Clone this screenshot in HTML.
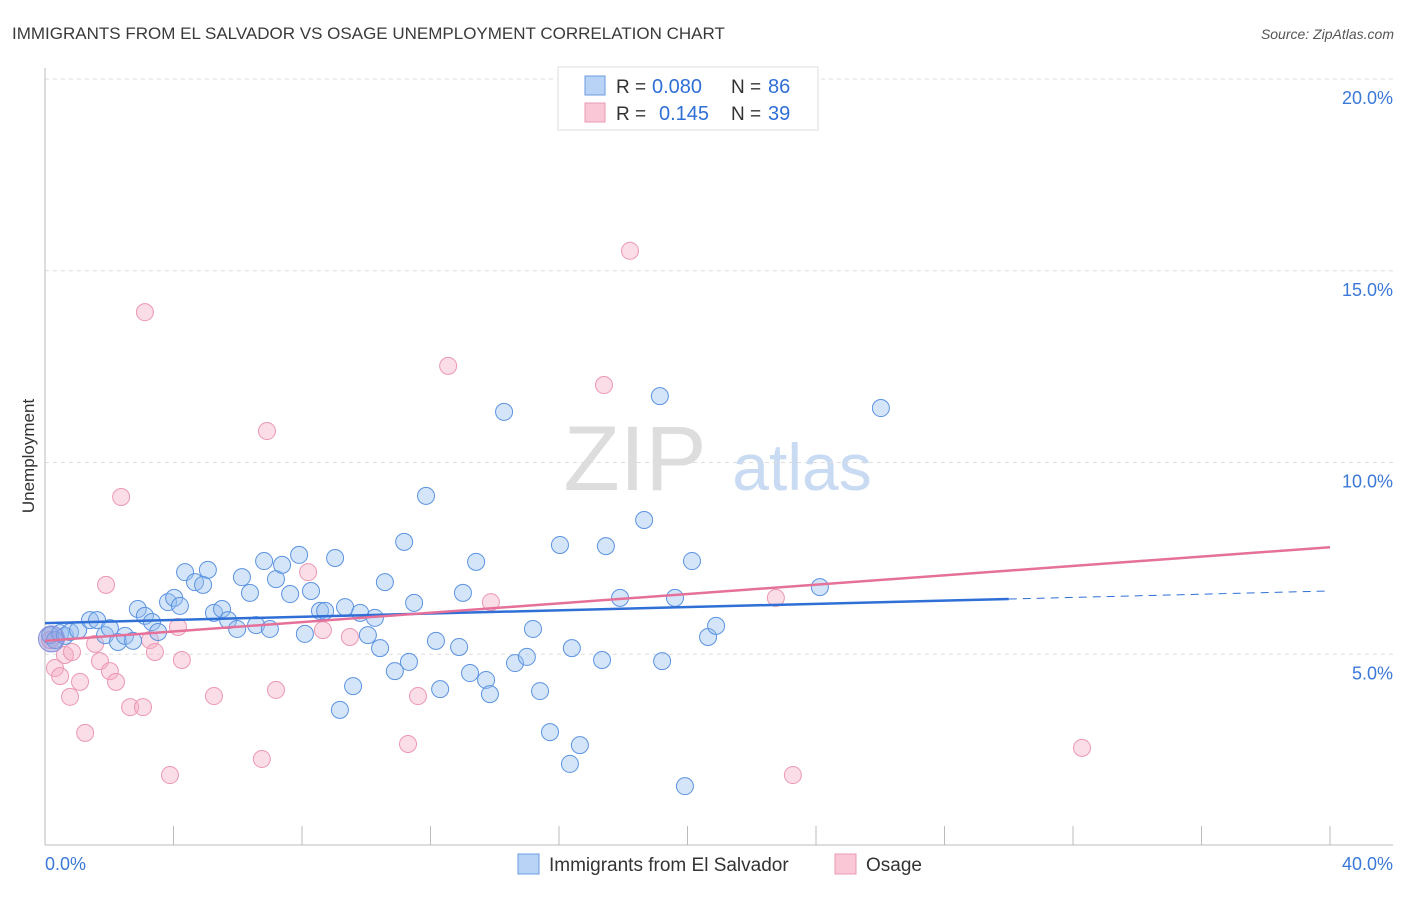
<!DOCTYPE html>
<html><head><meta charset="utf-8"><style>
body{margin:0;background:#fff;font-family:"Liberation Sans",sans-serif}
svg text{font-family:"Liberation Sans",sans-serif}
</style></head><body>
<svg id="chart" width="1406" height="892" xmlns="http://www.w3.org/2000/svg">
<text x="12" y="39" font-size="17" fill="#3a3a3a">IMMIGRANTS FROM EL SALVADOR VS OSAGE UNEMPLOYMENT CORRELATION CHART</text>
<text x="1394" y="39" font-size="14" fill="#555" font-style="italic" text-anchor="end">Source: ZipAtlas.com</text>
<text transform="translate(34,456) rotate(-90)" font-size="17" fill="#333" text-anchor="middle">Unemployment</text>
<g><text x="635" y="490" font-size="92" fill="#ddd" font-family="Liberation Serif,serif" text-anchor="middle">ZIP</text><text x="802" y="490" font-size="66" fill="#c9daf3" text-anchor="middle">atlas</text></g>
<g id="grid"></g><g id="axes"></g><g id="pts"></g><g id="trends"></g>
<g>
<rect x="558" y="67" width="260" height="63" fill="#fff" stroke="#ddd"/>
<rect x="585" y="76" width="20" height="19" fill="#b8d3f5" stroke="#6b9be0"/>
<rect x="585" y="103" width="20" height="19" fill="#f9c7d6" stroke="#ea9ab4"/>
<text x="616" y="93" font-size="19" fill="#333">R =</text>
<text x="652" y="93" font-size="20" fill="#2f6fd6">0.080</text>
<text x="731" y="93" font-size="19" fill="#333">N =</text>
<text x="768" y="93" font-size="20" fill="#2f6fd6">86</text>
<text x="616" y="120" font-size="19" fill="#333">R =</text>
<text x="659" y="120" font-size="20" fill="#2f6fd6">0.145</text>
<text x="731" y="120" font-size="19" fill="#333">N =</text>
<text x="768" y="120" font-size="20" fill="#2f6fd6">39</text>
</g>
<g>
<rect x="518" y="854" width="21" height="20" fill="#b8d3f5" stroke="#6b9be0"/>
<text x="549" y="871" font-size="19" fill="#333">Immigrants from El Salvador</text>
<rect x="835" y="854" width="21" height="20" fill="#f9c7d6" stroke="#ea9ab4"/>
<text x="866" y="871" font-size="19" fill="#333">Osage</text>
</g>
</svg>
<script>
const blueX=[0.16,0.31,0.47,0.62,0.78,1.03,1.40,1.62,1.87,2.02,2.27,2.49,2.74,2.89,3.11,3.33,3.52,3.83,4.02,4.20,4.36,4.67,4.92,5.07,5.26,5.51,5.70,5.98,6.13,6.38,6.57,6.82,7.00,7.19,7.38,7.63,7.91,8.09,8.28,8.56,8.72,9.03,9.18,9.34,9.59,9.81,10.05,10.27,10.43,10.58,10.89,11.18,11.33,11.49,11.86,12.17,12.30,12.89,13.01,13.23,13.42,13.73,13.85,14.29,14.63,15.00,15.19,15.41,15.72,16.03,16.34,16.40,16.65,17.34,17.46,17.90,18.65,19.14,19.21,19.61,19.92,20.14,20.64,20.89,24.12,26.02];
const blueY=[5.50,5.37,5.55,5.48,5.58,5.63,5.89,5.89,5.50,5.68,5.32,5.48,5.35,6.18,6.00,5.84,5.58,6.36,6.47,6.26,7.14,6.88,6.81,7.20,6.08,6.18,5.89,5.66,7.01,6.60,5.76,7.43,5.66,6.96,7.33,6.57,7.59,5.53,6.65,6.13,6.13,7.51,3.55,6.23,4.17,6.08,5.50,5.95,5.16,6.88,4.56,7.93,4.80,6.34,9.13,5.35,4.09,5.19,6.60,4.51,7.41,4.33,3.96,11.32,4.77,4.93,5.66,4.04,2.97,7.85,2.14,5.16,2.63,4.85,7.82,6.47,8.50,11.73,4.82,6.47,1.56,7.43,5.45,5.74,6.75,11.42];
const pinkX=[0.16,0.31,0.47,0.62,0.78,0.84,1.09,1.25,1.56,1.71,1.90,2.02,2.21,2.37,2.65,3.11,3.05,3.27,3.42,3.89,4.14,4.26,5.26,6.75,6.91,7.19,8.19,8.65,9.49,11.30,11.61,12.55,13.88,17.40,18.21,22.75,23.28,32.28];
const pinkY=[5.37,4.64,4.43,4.98,3.89,5.06,4.28,2.95,5.27,4.82,6.81,4.56,4.28,9.10,3.62,13.92,3.62,5.37,5.06,1.85,5.71,4.85,3.91,2.27,10.82,4.07,7.14,5.63,5.45,2.66,3.91,12.52,6.36,12.02,15.52,6.47,1.85,2.56];
const yTicks=[5,10,15,20];
const yTickLabels=["5.0%","10.0%","15.0%","20.0%"];
const xTicks=[0,4,8,12,16,20,24,28,32,36,40];
const blueTrend=[5.81,0.021,30];
const pinkTrend=[5.35,0.061,40];
const NS="http://www.w3.org/2000/svg";
const X=v=>45+v/40*1285, Y=v=>846-v/20*767;
function mk(t,a,p){const e=document.createElementNS(NS,t);for(const k in a)e.setAttribute(k,a[k]);p.appendChild(e);return e;}
const grid=document.getElementById('grid'),axes=document.getElementById('axes'),pts=document.getElementById('pts'),tr=document.getElementById('trends');
yTicks.forEach((v,i)=>{
 const l=mk('line',{x1:45,x2:1393,y1:Y(v),y2:Y(v),stroke:'#ddd','stroke-dasharray':'4,4'},grid);
 
 
 const t=mk('text',{x:1393,y:Y(v)+25,'font-size':18,fill:'#3b78d8','text-anchor':'end'},axes);
 t.textContent=yTickLabels[i];
 
 
});
mk('line',{x1:45,x2:45,y1:68,y2:845,stroke:'#bbb'},axes);
mk('line',{x1:45,x2:1393,y1:845,y2:845,stroke:'#bbb'},axes);
xTicks.forEach(v=>{const l=mk('line',{x1:X(v),x2:X(v),y1:826,y2:845,stroke:'#bbb'},axes);
 
 });
const xl0=mk('text',{x:45,y:870,'font-size':18,fill:'#3b78d8'},axes);xl0.textContent='0.0%';


const xl1=mk('text',{x:1393,y:870,'font-size':18,fill:'#3b78d8','text-anchor':'end'},axes);xl1.textContent='40.0%';


pinkX.forEach((x,i)=>{const c=mk('circle',{cx:X(x),cy:Y(pinkY[i]),r:8.5,fill:'rgba(246,170,196,0.4)',stroke:'#ec97b3','stroke-width':1},pts);
 
 });
blueX.forEach((x,i)=>{const c=mk('circle',{cx:X(x),cy:Y(blueY[i]),r:8.5,fill:'rgba(150,190,240,0.4)',stroke:'#5b93e0','stroke-width':1},pts);
 
 });
const big=mk('circle',{cx:X(0.2),cy:Y(5.4),r:13,fill:'rgba(140,150,220,0.5)',stroke:'#8a8fd8'},pts);


let l=mk('line',{x1:X(0),y1:Y(blueTrend[0]),x2:X(blueTrend[2]),y2:Y(blueTrend[0]+blueTrend[1]*blueTrend[2]),stroke:'#2f6fd6','stroke-width':2.5},tr);


l=mk('line',{x1:X(blueTrend[2]),y1:Y(blueTrend[0]+blueTrend[1]*blueTrend[2]),x2:X(40),y2:Y(blueTrend[0]+blueTrend[1]*40),stroke:'#2f6fd6','stroke-width':1,'stroke-dasharray':'8,6'},tr);


l=mk('line',{x1:X(0),y1:Y(pinkTrend[0]),x2:X(pinkTrend[2]),y2:Y(pinkTrend[0]+pinkTrend[1]*pinkTrend[2]),stroke:'#e5709a','stroke-width':2.5},tr);


</script>
</body></html>
